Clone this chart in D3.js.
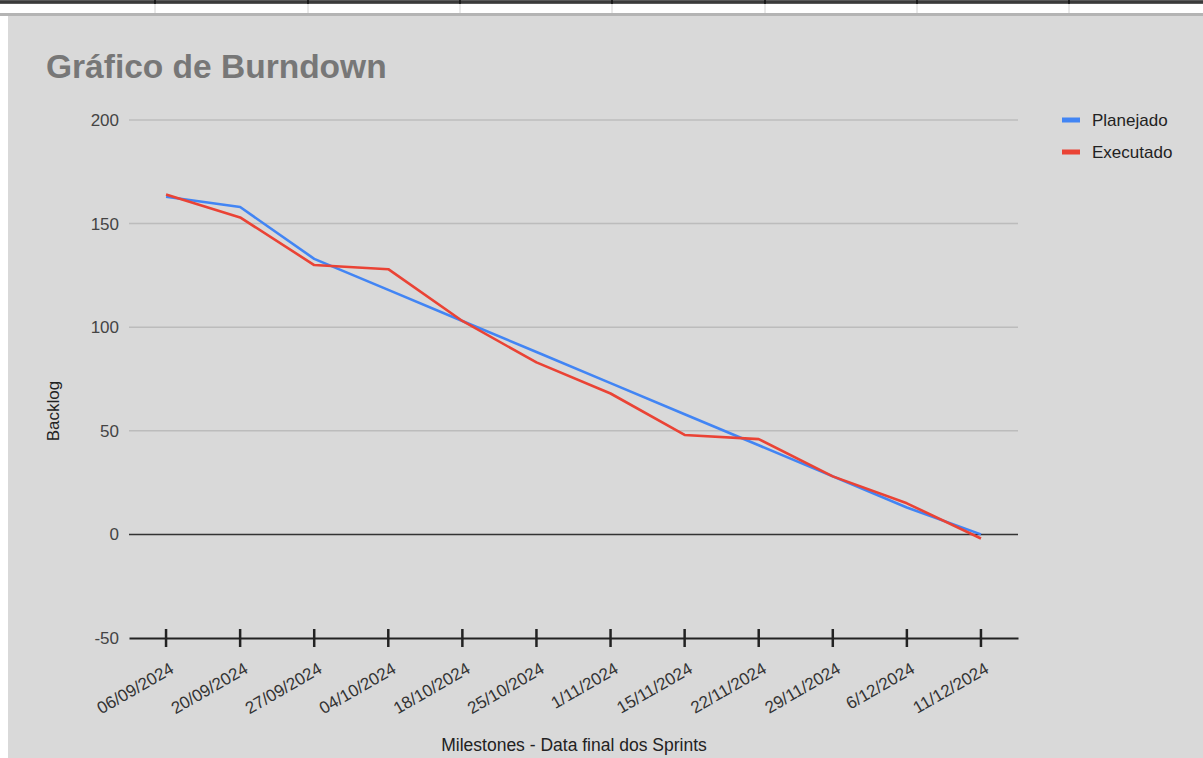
<!DOCTYPE html>
<html>
<head>
<meta charset="utf-8">
<script src="https://cdn.jsdelivr.net/npm/d3@7"></script>
<style>
  html, body { margin: 0; padding: 0; background: #ffffff; }
  svg { display: block; }
  text { font-family: "Liberation Sans", Arial, sans-serif; }
</style>
</head>
<body>
<svg id="chart" width="1203" height="758"></svg>
<script>
// ---- Data ----
const categories = ["06/09/2024", "20/09/2024", "27/09/2024", "04/10/2024", "18/10/2024", "25/10/2024",
                    "1/11/2024", "15/11/2024", "22/11/2024", "29/11/2024", "6/12/2024", "11/12/2024"];
const planejado = [163, 158, 133, 118, 103, 88, 73, 58, 43, 28, 13, 0];
const executado = [164, 153, 130, 128, 103, 83, 68, 48, 46, 28, 15, -2];
const yTicks = [-50, 0, 50, 100, 150, 200];
const seriesNames = ["Planejado", "Executado"];
const seriesColors = ["#4285f4", "#ea4335"];
const titleText = "Gráfico de Burndown";
const xTitle = "Milestones - Data final dos Sprints";
const yTitle = "Backlog";
const sheetColumns = [155, 308, 460, 612, 765, 917, 1069];

// ---- Layout ----
const svg = d3.select("#chart");
const W = 1203, H = 758;
const plot = { left: 129, right: 1018, top: 120, bottom: 638 };

// spreadsheet remnant at the top
svg.append("rect").attr("x", 0).attr("y", 0).attr("width", W).attr("height", H).attr("fill", "#ffffff");
svg.append("rect").attr("x", 8).attr("y", 15).attr("width", W - 8).attr("height", H - 15).attr("fill", "#d9d9d9");
svg.append("rect").attr("x", 0).attr("y", 13).attr("width", W).attr("height", 3).attr("fill", "#b4b4b4");
svg.append("rect").attr("x", 0).attr("y", 0).attr("width", W).attr("height", 4).attr("fill", "#5a5a5a");
svg.append("rect").attr("x", 0).attr("y", 1).attr("width", W).attr("height", 2).attr("fill", "#3a3a3a");
svg.selectAll("line.sheetcol").data(sheetColumns).enter().append("line")
  .attr("x1", d => d).attr("x2", d => d).attr("y1", 4).attr("y2", 13)
  .attr("stroke", "#d4d4d4").attr("stroke-width", 1);
svg.selectAll("line.sheetcol2").data(sheetColumns).enter().append("line")
  .attr("x1", d => d).attr("x2", d => d).attr("y1", 0).attr("y2", 4)
  .attr("stroke", "#111").attr("stroke-width", 1.5);

// ---- Scales ----
const x = d3.scaleBand().domain(categories).range([plot.left, plot.right]);
const xc = d => x(d) + x.bandwidth() / 2;
const y = d3.scaleLinear().domain([-50, 200]).range([plot.bottom, plot.top]);

// Title
svg.append("text").attr("x", 46).attr("y", 78)
  .attr("font-size", 33.5).attr("font-weight", "bold").attr("fill", "#777777")
  .text(titleText);

// Gridlines
svg.selectAll("line.grid").data(yTicks.filter(v => v !== 0 && v !== -50)).enter().append("line")
  .attr("x1", plot.left).attr("x2", plot.right)
  .attr("y1", d => y(d)).attr("y2", d => y(d))
  .attr("stroke", "#bcbcbc").attr("stroke-width", 1.5);

// Zero line
svg.append("line").attr("x1", plot.left).attr("x2", plot.right)
  .attr("y1", y(0)).attr("y2", y(0)).attr("stroke", "#333").attr("stroke-width", 1.5);

// Y axis labels
const yAxis = d3.axisLeft(y).tickValues(yTicks).tickSize(0).tickPadding(10).tickFormat(d => String(d));
const gy = svg.append("g").attr("transform", `translate(${plot.left},0)`).call(yAxis);
gy.select(".domain").remove();
gy.selectAll("text").attr("font-size", 17).attr("fill", "#444")
  .attr("font-family", "'Liberation Sans', Arial, sans-serif");

// X axis
const xAxis = d3.axisBottom(x).tickSize(0);
const gx = svg.append("g").attr("transform", `translate(0,${plot.bottom})`).call(xAxis);
gx.select(".domain").attr("stroke", "#222").attr("stroke-width", 1.8);
gx.selectAll(".tick line").remove();
gx.selectAll(".tick").append("line")
  .attr("x1", 0).attr("x2", 0).attr("y1", -9).attr("y2", 9)
  .attr("stroke", "#222").attr("stroke-width", 2.5);
gx.selectAll(".tick text")
  .attr("font-size", 17).attr("fill", "#333")
  .attr("font-family", "'Liberation Sans', Arial, sans-serif")
  .attr("text-anchor", "end").attr("dy", null).attr("y", null)
  .attr("transform", "translate(9,34) rotate(-30)");

// Axis titles
svg.append("text").attr("x", 574).attr("y", 751).attr("text-anchor", "middle")
  .attr("font-size", 17.5).attr("fill", "#222").text(xTitle);
svg.append("text").attr("transform", "translate(59,411) rotate(-90)").attr("text-anchor", "middle")
  .attr("font-size", 17).attr("fill", "#222").text(yTitle);

// Lines
const line = d3.line().x((d, i) => xc(categories[i])).y(d => y(d));
[planejado, executado].forEach((s, i) => {
  svg.append("path").datum(s).attr("d", line)
    .attr("fill", "none").attr("stroke", seriesColors[i]).attr("stroke-width", 2.6)
    .attr("stroke-linejoin", "round");
});

// Legend
const lg = svg.append("g").attr("transform", "translate(1062,120)");
seriesNames.forEach((n, i) => {
  lg.append("rect").attr("x", 0).attr("y", i * 32 - 2.5).attr("width", 18).attr("height", 5)
    .attr("fill", seriesColors[i]);
  lg.append("text").attr("x", 30).attr("y", i * 32).attr("dy", "0.35em")
    .attr("font-size", 17).attr("fill", "#222").text(n);
});
</script>
</body>
</html>
